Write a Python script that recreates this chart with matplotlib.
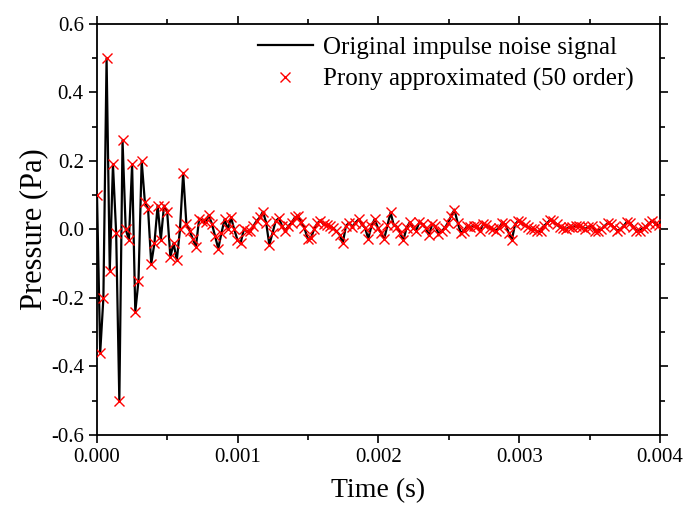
import numpy as np
import matplotlib
matplotlib.use('Agg')
import matplotlib.pyplot as plt
from matplotlib.ticker import MultipleLocator, FormatStrFormatter

sample_rate = 44100.0
pressure = [
    0.10, -0.36, -0.20, 0.50, -0.12, 0.19, -0.01, -0.50, 0.26, 0.00,
    -0.03, 0.19, -0.24, -0.15, 0.20, 0.08, 0.06, -0.10, -0.04, 0.07,
    -0.03, 0.07, 0.05, -0.08, -0.04, -0.09, 0.00, 0.165, 0.017, -0.003,
    -0.027, -0.05, 0.031, 0.026, 0.021, 0.041, 0.017, -0.02, -0.056, -0.01,
    0.03, 0.0, 0.035, 0.0, -0.03, -0.04, 0.0, -0.005, -0.005, 0.01,
    0.025, 0.035, 0.052, 0.02, -0.045, -0.01, 0.025, 0.033, 0.01, -0.003,
    0.01, 0.02, 0.035, 0.04, 0.021, 0.005, -0.027, -0.026, 0.0, 0.018,
    0.026, 0.015, 0.012, 0.01, 0.004, -0.005, -0.015, -0.04, 0.01, 0.02,
    0.008, 0.02, 0.03, 0.015, 0.005, -0.027, 0.01, 0.03, 0.005, -0.01,
    -0.027, 0.012, 0.05, 0.012, 0.008, -0.01, -0.032, 0.005, 0.021, 0.005,
    -0.003, 0.021, 0.015, 0.005, -0.017, 0.015, 0.01, -0.012, -0.005, 0.005,
    0.02, 0.04, 0.058, 0.02, -0.01, -0.003, 0.01, 0.008, 0.01, 0.01,
    -0.003, 0.015, 0.012, 0.005, 0.0, -0.003, 0.005, 0.02, 0.015, -0.01,
    -0.03, 0.015, 0.025, 0.022, 0.012, 0.007, 0.002, 0.0, -0.005, -0.005,
    0.01, 0.018, 0.028, 0.025, 0.015, 0.007, 0.003, 0.002, 0.006, 0.008,
    0.01, 0.01, 0.006, 0.002, 0.008, 0.01, -0.003, -0.003, 0.0, 0.01,
    0.018, 0.015, 0.006, -0.003, 0.0, 0.01, 0.022, 0.02, 0.008, -0.003,
    -0.003, 0.003, 0.008, 0.018, 0.025, 0.017, 0.012,
]
prony = list(pressure)  # approximation lies on top of the original
time = np.arange(len(pressure)) / sample_rate

plt.rcParams['font.family'] = ['Liberation Serif', 'DejaVu Serif']

fig = plt.figure(figsize=(6.86, 5.09), dpi=100)
ax = fig.add_axes([0.1414, 0.1454, 0.8206, 0.8075])

ax.plot(time, pressure, color='black', linewidth=1.6, label='Original impulse noise signal', zorder=2)
ax.plot(time, prony, linestyle='none', marker='x', color='red', markersize=7,
        markeredgewidth=1.0, label='Prony approximated (50 order)', zorder=3)

ax.set_xlim(0, 0.004)
ax.set_ylim(-0.6, 0.6)
ax.xaxis.set_major_locator(MultipleLocator(0.001))
ax.xaxis.set_minor_locator(MultipleLocator(0.0005))
ax.yaxis.set_major_locator(MultipleLocator(0.2))
ax.yaxis.set_minor_locator(MultipleLocator(0.1))
ax.xaxis.set_major_formatter(FormatStrFormatter('%.3f'))
ax.yaxis.set_major_formatter(FormatStrFormatter('%.1f'))

ax.tick_params(which='both', direction='out', top=True, right=True, labelsize=15, width=1.2)
ax.tick_params(which='major', length=6)
ax.tick_params(which='minor', length=3.5)
for s in ax.spines.values():
    s.set_linewidth(1.3)

ax.set_xlabel('Time (s)', fontsize=20, labelpad=8)
ax.set_ylabel('Pressure (Pa)', fontsize=22, labelpad=2)

leg = ax.legend(loc='upper right', bbox_to_anchor=(0.975, 1.0), frameon=False, fontsize=18,
                handlelength=2.2, handletextpad=0.4, borderaxespad=0.1, labelspacing=0.35)

fig.savefig('out.png', dpi=100)
